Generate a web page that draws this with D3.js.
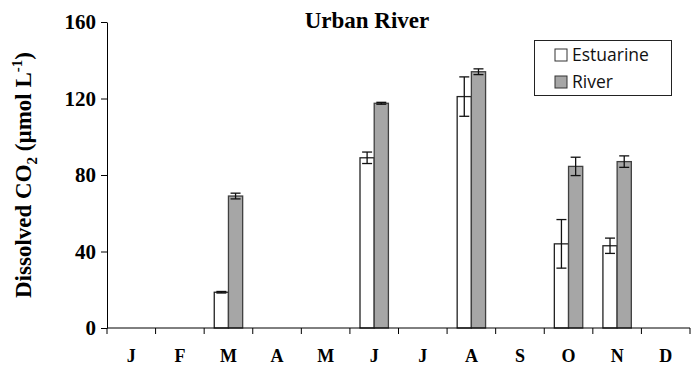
<!DOCTYPE html>
<html>
<head>
<meta charset="utf-8">
<script src="https://cdn.jsdelivr.net/npm/d3@7"></script>
<style>
  body { margin: 0; background: #fff; }
  svg { display: block; }
</style>
</head>
<body>
<div id="chart"></div>
<script>
const months = ["J", "F", "M", "A", "M", "J", "J", "A", "S", "O", "N", "D"];
const seriesNames = ["Estuarine", "River"];
// null = no sample that month
const estuarine = [null, null, 18.7, null, null, 89, null, 121, null, 44, 43, null];
const estuarineErr = [0, 0, 0.4, 0, 0, 3, 0, 10.3, 0, 12.7, 4, 0];
const river = [null, null, 69, null, null, 117.5, null, 134, null, 84.5, 87, null];
const riverErr = [0, 0, 1.5, 0, 0, 0.5, 0, 1.5, 0, 4.8, 3, 0];
const yTicks = [0, 40, 80, 120, 160];

function createChart() {
    var width = 691;
    var height = 367;
    var margin = ({top: 22, right: 1, bottom: 39, left: 107});
    var serif = "Liberation Serif, Times New Roman, serif";

    var x = d3.scaleBand()
        .domain(d3.range(months.length))
        .range([margin.left, width - margin.right]);

    var inner = d3.scaleBand()
        .domain(seriesNames)
        .range([0, x.bandwidth()])
        .paddingInner(0)
        .paddingOuter(0.71);

    var y = d3.scaleLinear()
        .domain([0, 160])
        .range([height - margin.bottom, margin.top]);

    var svg = d3.select("#chart")
        .append("svg")
            .attr("viewBox", [0, 0, width, height])
            .attr("width", width)
            .attr("height", height);

    // title
    svg.append("text")
        .attr("x", 367)
        .attr("y", 28)
        .attr("text-anchor", "middle")
        .attr("font-family", serif)
        .attr("font-weight", "bold")
        .attr("font-size", 23)
        .text("Urban River");

    // y axis
    svg.append("g")
        .attr("transform", `translate(${margin.left},0)`)
        .call(d3.axisLeft(y).tickValues(yTicks).tickSize(6).tickSizeOuter(0).tickPadding(5))
        .call(g => g.select(".domain").attr("stroke", "#000"))
        .call(g => g.selectAll(".tick line").attr("stroke", "#000"))
        .call(g => g.selectAll(".tick text")
            .attr("font-family", serif)
            .attr("font-weight", "bold")
            .attr("font-size", 21)
            .attr("fill", "#000"));

    // y label
    var yl = svg.append("text")
        .attr("transform", `translate(31,${(y(0) + y(160)) / 2}) rotate(-90)`)
        .attr("text-anchor", "middle")
        .attr("font-family", serif)
        .attr("font-weight", "bold")
        .attr("font-size", 23);
    yl.append("tspan").text("Dissolved CO");
    yl.append("tspan").attr("font-size", 15).attr("dy", 6).text("2");
    yl.append("tspan").attr("dy", -6).text(" (\u00b5mol L");
    yl.append("tspan").attr("font-size", 15).attr("dy", -9).text("-1");
    yl.append("tspan").attr("dy", 9).text(")");

    // bars
    var rows = [];
    months.forEach((m, i) => {
        if (estuarine[i] != null) rows.push({i, s: "Estuarine", v: estuarine[i], e: estuarineErr[i]});
        if (river[i] != null) rows.push({i, s: "River", v: river[i], e: riverErr[i]});
    });

    svg.append("g")
        .selectAll("rect")
        .data(rows)
        .join("rect")
            .attr("x", d => x(d.i) + inner(d.s))
            .attr("y", d => y(d.v))
            .attr("width", inner.bandwidth())
            .attr("height", d => y(0) - y(d.v))
            .attr("fill", d => d.s === "River" ? "#a6a6a6" : "#fff")
            .attr("stroke", d => d.s === "River" ? "#404040" : "#222")
            .attr("stroke-width", 1.3);

    // error bars
    var eb = svg.append("g")
        .attr("stroke", "#111")
        .attr("stroke-width", 1.3)
        .selectAll("g")
        .data(rows.filter(d => d.e > 0))
        .join("g");
    var cx = d => x(d.i) + inner(d.s) + inner.bandwidth() / 2;
    eb.append("line")
        .attr("x1", cx).attr("x2", cx)
        .attr("y1", d => y(d.v + d.e)).attr("y2", d => y(d.v - d.e));
    eb.append("line")
        .attr("x1", d => cx(d) - 5).attr("x2", d => cx(d) + 5)
        .attr("y1", d => y(d.v + d.e)).attr("y2", d => y(d.v + d.e));
    eb.append("line")
        .attr("x1", d => cx(d) - 5).attr("x2", d => cx(d) + 5)
        .attr("y1", d => y(d.v - d.e)).attr("y2", d => y(d.v - d.e));

    // x axis: ticks on band edges, labels at centres
    var xEdges = d3.range(months.length + 1).map(i => margin.left + i * x.step());
    var xa = svg.append("g")
        .attr("transform", `translate(0,${y(0)})`);
    xa.append("line")
        .attr("x1", margin.left).attr("x2", width - margin.right)
        .attr("stroke", "#000");
    xa.selectAll(".edge")
        .data(xEdges)
        .join("line")
            .attr("class", "edge")
            .attr("x1", d => d).attr("x2", d => d)
            .attr("y1", 0).attr("y2", 6)
            .attr("stroke", "#000");
    xa.selectAll(".mlab")
        .data(months)
        .join("text")
            .attr("class", "mlab")
            .attr("x", (d, i) => x(i) + x.bandwidth() / 2)
            .attr("y", 34)
            .attr("text-anchor", "middle")
            .attr("font-family", serif)
            .attr("font-weight", "bold")
            .attr("font-size", 18)
            .text(d => d);

    // legend
    var lg = svg.append("g");
    lg.append("rect")
        .attr("x", 534.5).attr("y", 40.5)
        .attr("width", 137).attr("height", 55)
        .attr("fill", "#fff")
        .attr("stroke", "#222")
        .attr("stroke-width", 1);
    var items = lg.selectAll(".item")
        .data(seriesNames)
        .join("g")
            .attr("class", "item")
            .attr("transform", (d, i) => `translate(555,${49 + i * 27})`);
    items.append("rect")
        .attr("width", 12).attr("height", 12)
        .attr("fill", d => d === "River" ? "#a6a6a6" : "#fff")
        .attr("stroke", "#333");
    items.append("text")
        .attr("x", 17)
        .attr("y", 12)
        .attr("font-family", "Open Sans, sans-serif")
        .attr("font-size", 17.5)
        .attr("fill", "#111")
        .text(d => d);
}

createChart();
</script>
</body>
</html>
